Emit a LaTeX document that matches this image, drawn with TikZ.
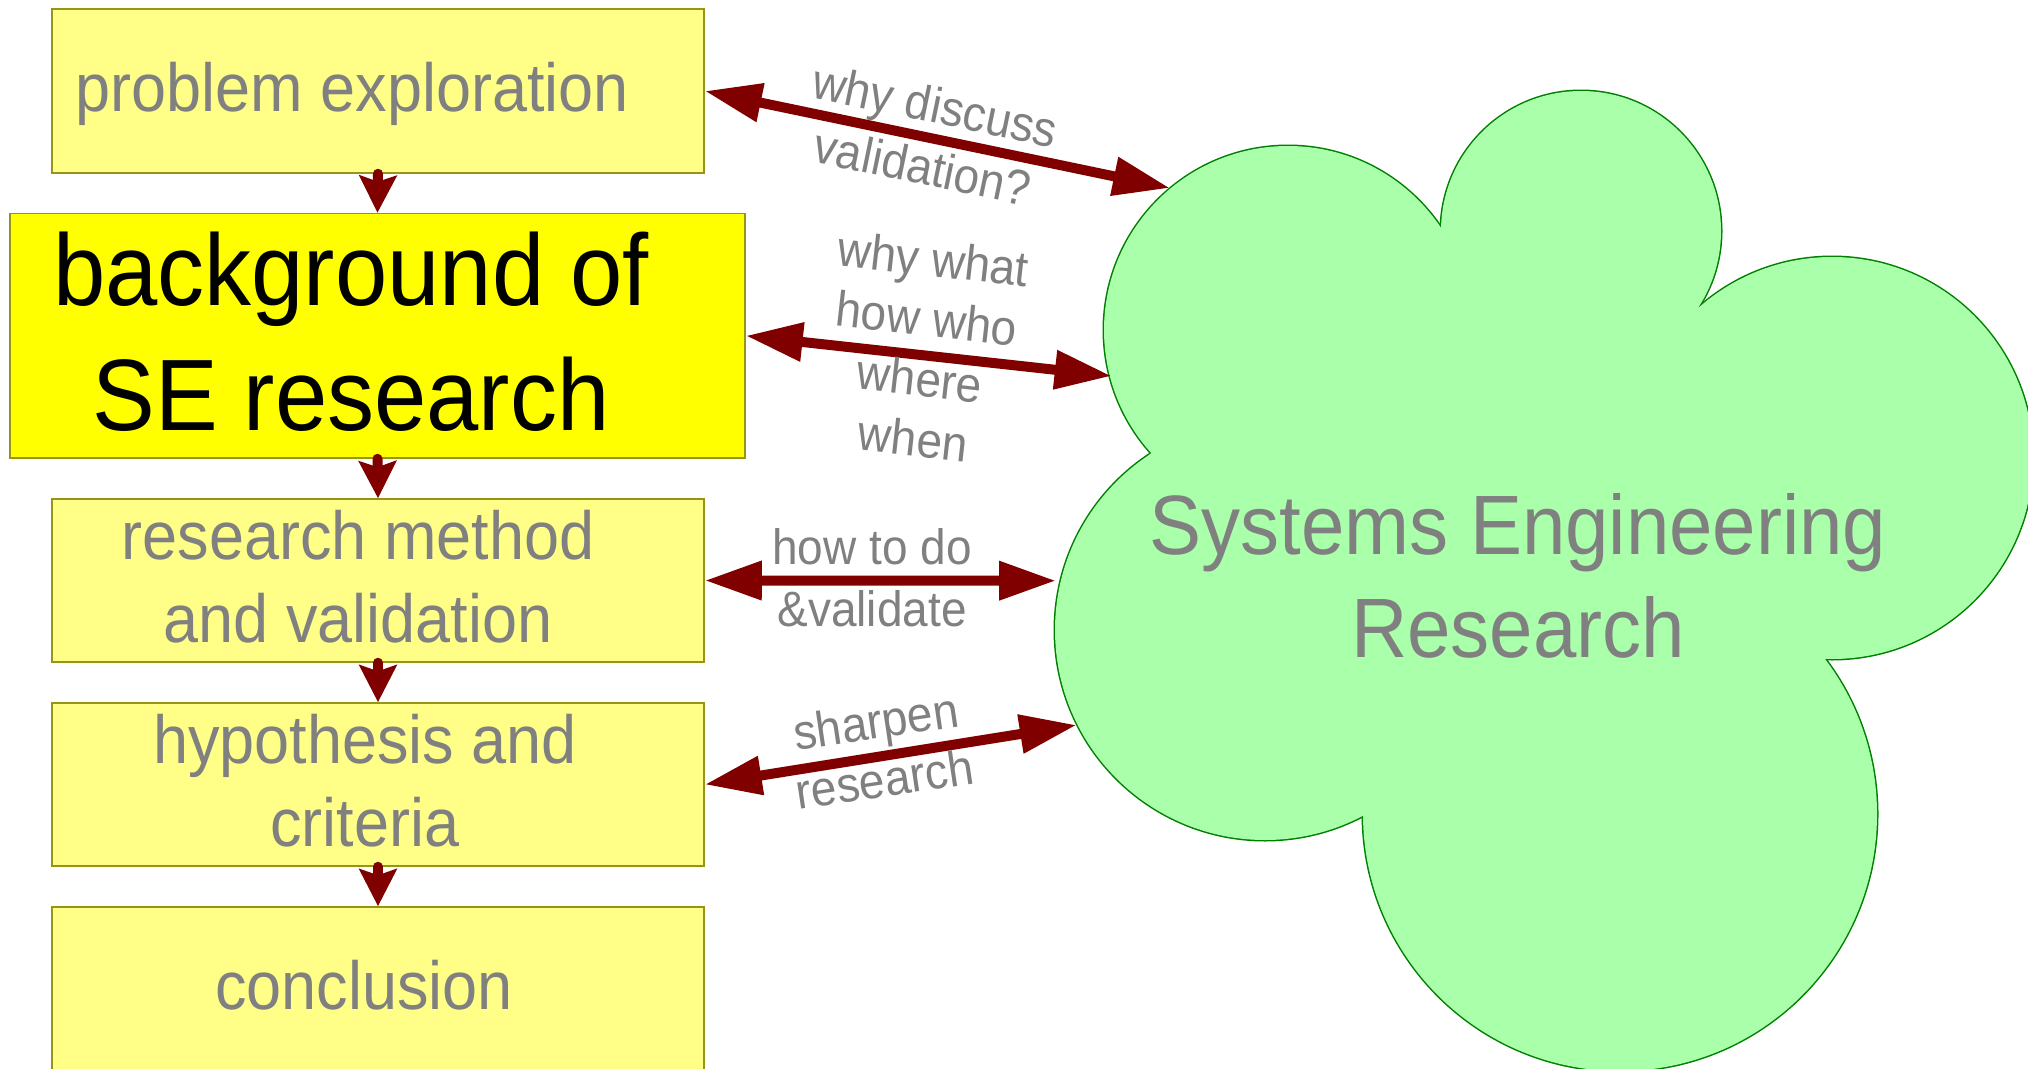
\documentclass[tikz,border=0pt]{standalone}
\usepackage{fontspec}
\setmainfont{Liberation Sans}
\usepackage{graphicx}
\usetikzlibrary{arrows.meta}
\definecolor{boxfill}{RGB}{255,255,136}
\definecolor{boxhi}{RGB}{255,255,0}
\definecolor{boxline}{RGB}{150,150,20}
\definecolor{txtgray}{RGB}{128,128,128}
\definecolor{arrred}{RGB}{128,0,0}
\definecolor{cloudfill}{RGB}{170,255,170}
\definecolor{cloudline}{RGB}{0,128,0}
\newcommand\vst[1]{\scalebox{1}[1.08]{#1}}
\newcommand\mlines[1]{\vst{\begin{tabular}[t]{@{}c@{}}#1\end{tabular}}}
\begin{document}
\begin{tikzpicture}[x=1pt,y=-1pt,
  stepbox/.style={draw=boxline, line width=1.5pt, fill=boxfill, inner sep=0pt,
    minimum width=652pt, minimum height=163pt},
  boxtext/.style={text=txtgray, inner sep=0pt, anchor=base},
  lbl/.style={text=txtgray, inner sep=0pt},
  harrow/.style={arrred, line width=10pt,
    {Triangle[length=57pt,width=37pt]}-{Triangle[length=57pt,width=37pt]}},
  varrow/.style={arrred, line width=10pt, line cap=round,
    -{Stealth[length=37pt,width=37pt,inset=6pt]}}
]
\useasboundingbox (0,0) rectangle (2028,1068);

% boxes
\node[stepbox, minimum height=164pt] (pe) at (378,91) {};
\node[stepbox, fill=boxhi, minimum width=735pt, minimum height=244.5pt] (bg) at (377.5,335.75) {};
\node[stepbox] (rm) at (378,580.5) {};
\node[stepbox] (hc) at (378,784.5) {};
\node[stepbox, minimum height=175pt] (cl) at (378,994.5) {};

% box texts
\node[boxtext, font=\fontsize{63}{77.3}\selectfont] (pe-t) at (352.5,111.7) {\vst{problem exploration}};
\node[boxtext, text=black, font=\fontsize{94}{115.3}\selectfont] (bg-t) at (351,305.5) {\mlines{background of\\SE research}};
\node[boxtext, font=\fontsize{63}{77.3}\selectfont] (rm-t) at (358,559.5) {\mlines{research method\\and validation}};
\node[boxtext, font=\fontsize{63}{76.9}\selectfont] (hc-t) at (365,763) {\mlines{hypothesis and\\criteria}};
\node[boxtext, font=\fontsize{63}{77.3}\selectfont] (cl-t) at (364,1009) {\vst{conclusion}};

% vertical arrows
\draw[varrow] (pe.south) -- (bg.north);
\draw[varrow] (bg.south) -- (rm.north);
\draw[varrow] (rm.south) -- (hc.north);
\draw[varrow] (hc.south) -- (cl.north);

% cloud: union of circles plus a core
\foreach \cx/\cy/\r in {1288/330/184, 1581/231/140, 1832/458/201, 1620/814/257, 1265/630/210}
  \draw[cloudline, line width=3pt] (\cx,\cy) circle[radius=\r pt];
\foreach \cx/\cy/\r in {1288/330/184, 1581/231/140, 1832/458/201, 1620/814/257, 1265/630/210}
  \fill[cloudfill] (\cx,\cy) circle[radius=\r pt];
\fill[cloudfill] (1149,455) -- (1441,230) -- (1699,307) -- (1823,658) -- (1363,814) -- cycle;
\fill[cloudfill] (1288,330) -- (1581,231) -- (1832,458) -- (1620,814) -- (1265,630) -- cycle;
\node[boxtext, font=\fontsize{78}{95.7}\selectfont] (se) at (1518,554.3) {\mlines{Systems Engineering\\Research}};

% cloud contact points
\coordinate (c1) at (1170,188);
\coordinate (c2) at (1111.7,376);
\coordinate (c3) at (1056,580.7);
\coordinate (c4) at (1076.7,725);

% horizontal arrows
\draw[harrow] (pe.east) -- (c1);
\draw[harrow] (bg.east) -- (c2);
\draw[harrow] (rm.east) -- (c3);
\draw[harrow] (hc.east) -- (c4);

% labels
\node[lbl, rotate=-11.7, font=\fontsize{46}{58}\selectfont] (l1) at (928,141) {\mlines{why discuss\\validation?}};
\node[lbl, rotate=-6.4, font=\fontsize{46}{55.8}\selectfont] (l2) at (922.7,354) {\mlines{why what\\how who\\where\\when}};
\node[lbl, anchor=base, font=\fontsize{46}{58.3}\selectfont] (l3) at (872,564) {\mlines{how to do\\\&validate}};
\node[lbl, rotate=8.5, font=\fontsize{46}{54.3}\selectfont] (l4) at (881,756) {\mlines{sharpen\\research}};
\end{tikzpicture}
\end{document}
